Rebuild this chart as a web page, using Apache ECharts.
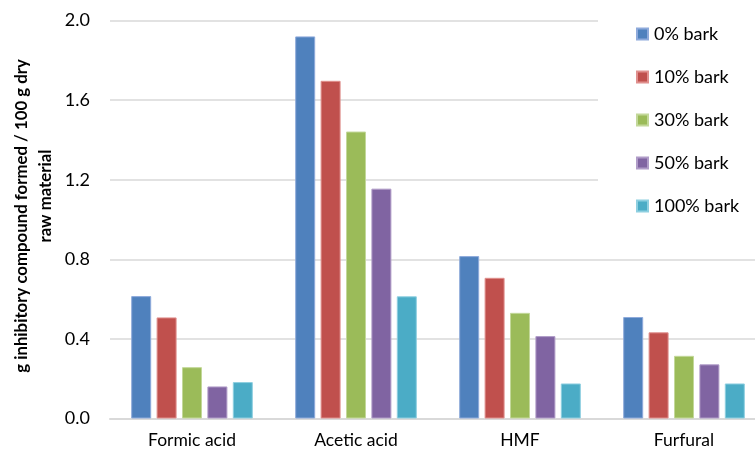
<!DOCTYPE html>
<html><head><meta charset="utf-8">
<script src="https://cdn.jsdelivr.net/npm/echarts@6/dist/echarts.min.js"></script>
<style>html,body{margin:0;padding:0;background:#fff}#c{width:755px;height:452px}</style>
</head><body><div id="c"></div>
<script>
const categories = ['Formic acid', 'Acetic acid', 'HMF', 'Furfural'];
const seriesNames = ['0% bark', '10% bark', '30% bark', '50% bark', '100% bark'];
const bark0 = [0.615, 1.920, 0.816, 0.510];
const bark10 = [0.508, 1.697, 0.707, 0.433];
const bark30 = [0.258, 1.442, 0.531, 0.315];
const bark50 = [0.161, 1.155, 0.414, 0.272];
const bark100 = [0.183, 0.614, 0.176, 0.176];
const yTicks = [0, 0.4, 0.8, 1.2, 1.6, 2.0];
const yTitleLines = ['g inhibitory compound formed / 100 g dry', 'raw material'];

const values = [bark0, bark10, bark30, bark50, bark100];
const colors = ['#4F81BD', '#C0504D', '#9BBB59', '#8064A2', '#4BACC6'];
const borders = ['#8EAADB', '#E0908E', '#C3D89A', '#B09CC8', '#8ECFE0'];
const font = 'Lato, "Open Sans", sans-serif';

const chart = echarts.init(document.getElementById('c'), null, {renderer: 'canvas'});
chart.setOption({
  animation: false,
  backgroundColor: '#fff',
  textStyle: {fontFamily: font},
  grid: {left: 110, top: 20.5, width: 656, height: 398, containLabel: false, outerBoundsMode: 'none'},
  legend: {
    orient: 'vertical', left: 598, top: 14,
    padding: [10, 20, 10, 38],
    backgroundColor: '#fff',
    itemWidth: 11, itemHeight: 11, itemGap: 23,
    icon: 'rect',
    textStyle: {fontSize: 18, color: '#000', fontFamily: font, lineHeight: 20, padding: [0, 0, 0, 1]},
    data: seriesNames
  },
  graphic: [
    {type: 'text', x: 22, y: 216, rotation: Math.PI / 2,
     style: {text: yTitleLines[0], font: 'bold 16.8px ' + font, fill: '#000', align: 'center', verticalAlign: 'middle'}},
    {type: 'text', x: 46, y: 196, rotation: Math.PI / 2,
     style: {text: yTitleLines[1], font: 'bold 16.8px ' + font, fill: '#000', align: 'center', verticalAlign: 'middle'}}
  ],
  xAxis: {
    type: 'category', data: categories,
    axisLine: {lineStyle: {color: '#D9D9D9', width: 2}},
    axisTick: {show: false},
    axisLabel: {fontSize: 17.5, color: '#000', margin: 13, fontFamily: font}
  },
  yAxis: {
    type: 'value', min: yTicks[0], max: yTicks[yTicks.length - 1], interval: 0.4,
    axisLine: {show: false}, axisTick: {show: false},
    splitLine: {lineStyle: {color: '#D9D9D9', width: 1.5}},
    axisLabel: {fontSize: 18, color: '#000', margin: 20, formatter: v => v.toFixed(1), fontFamily: font}
  },
  series: values.map((d, i) => ({
    name: seriesNames[i], type: 'bar', data: d,
    barWidth: 20, barGap: '27%',
    itemStyle: {color: colors[i], borderColor: borders[i], borderWidth: 1}
  }))
});
</script></body></html>
